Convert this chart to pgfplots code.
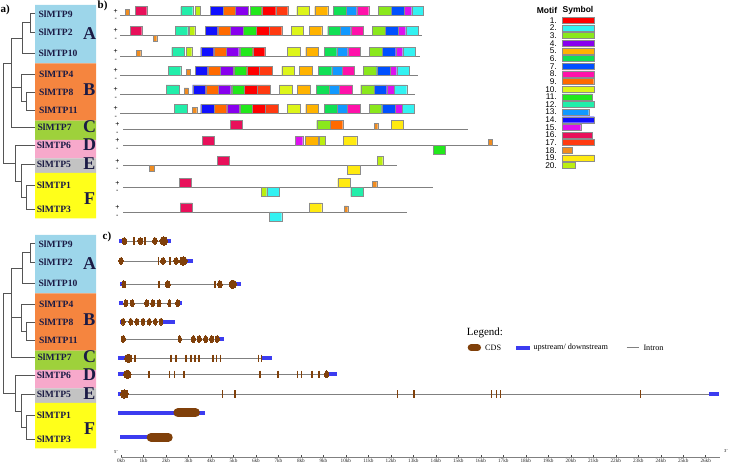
\documentclass[border=0pt]{standalone}
\usepackage{pgfplots}
\pgfplotsset{compat=1.18}
\usepackage{fontspec}
\setmainfont{Liberation Serif}
\newfontfamily\sans{Liberation Sans}

\definecolor{cA}{HTML}{9DD6EA}
\definecolor{cB}{HTML}{F5853F}
\definecolor{cC}{HTML}{9ED13B}
\definecolor{cD}{HTML}{F7A9CB}
\definecolor{cE}{HTML}{C3C3C3}
\definecolor{cF}{HTML}{FFFF1A}
\definecolor{labc}{HTML}{1B1B45}
\definecolor{treec}{HTML}{555555}
\definecolor{m1}{HTML}{FF0000}
\definecolor{m2}{HTML}{33F2F2}
\definecolor{m3}{HTML}{8AE81C}
\definecolor{m4}{HTML}{8800EE}
\definecolor{m5}{HTML}{FFB300}
\definecolor{m6}{HTML}{11E055}
\definecolor{m7}{HTML}{0050FF}
\definecolor{m8}{HTML}{FF11AA}
\definecolor{m9}{HTML}{FF6A00}
\definecolor{m10}{HTML}{DDF51A}
\definecolor{m11}{HTML}{22E81C}
\definecolor{m12}{HTML}{22EEAA}
\definecolor{m13}{HTML}{1199FF}
\definecolor{m14}{HTML}{1010FF}
\definecolor{m15}{HTML}{DD11EE}
\definecolor{m16}{HTML}{E8105A}
\definecolor{m17}{HTML}{FF3A10}
\definecolor{m18}{HTML}{F08C20}
\definecolor{m19}{HTML}{FFEA10}
\definecolor{m20}{HTML}{BBEE11}
\definecolor{cdsc}{RGB}{128,64,10}
\definecolor{utrc}{RGB}{60,60,240}

\tikzset{
 mbox/.style={draw=black!45, line width=0.4pt},
 gline/.style={draw=gray, line width=0.8pt},
 treel/.style={draw=treec, line width=0.9pt},
 intron/.style={draw=gray, line width=0.9pt},
 utr/.style={draw=utrc, line width=4pt},
 cdsl/.style={draw=cdsc, line width=9pt, line cap=round},
 tk/.style={draw=cdsc, line width=1.6pt},
 lab/.style={anchor=west, inner sep=0pt, text=labc, font=\fontsize{9.6}{10}\selectfont\bfseries},
 big/.style={inner sep=0pt, text=labc, font=\fontsize{18}{18}\selectfont\bfseries},
 pmf/.style={inner sep=0pt, text height=3.2pt, text depth=0pt, font=\sans\fontsize{7}{7}\selectfont},
 numf/.style={anchor=east, inner sep=0pt, font=\sans\fontsize{8.3}{8}\selectfont},
}

% motif boxes: x1 x2 line-y colour
\newcommand\MP[4]{\pgfmathsetmacro\yb{-#3}\pgfmathsetmacro\yt{-#3+9}%
 \edef\tmp{\noexpand\addplot[mbox,fill=#4] coordinates {(#1,\yb) (#2,\yb) (#2,\yt) (#1,\yt) (#1,\yb)};}\tmp}
\newcommand\MM[4]{\pgfmathsetmacro\yb{-#3}\pgfmathsetmacro\yt{-#3-9}%
 \edef\tmp{\noexpand\addplot[mbox,fill=#4] coordinates {(#1,\yb) (#2,\yb) (#2,\yt) (#1,\yt) (#1,\yb)};}\tmp}
\newcommand\SP[3]{\pgfmathsetmacro\yb{-#3}\pgfmathsetmacro\yt{-#3+6}%
 \edef\tmp{\noexpand\addplot[mbox,fill=m18] coordinates {(#1,\yb) (#2,\yb) (#2,\yt) (#1,\yt) (#1,\yb)};}\tmp}
\newcommand\SM[3]{\pgfmathsetmacro\yb{-#3}\pgfmathsetmacro\yt{-#3-6}%
 \edef\tmp{\noexpand\addplot[mbox,fill=m18] coordinates {(#1,\yb) (#2,\yb) (#2,\yt) (#1,\yt) (#1,\yb)};}\tmp}
\newcommand\GL[4]{\addplot[gline] coordinates {(#1,-#3) (#2,-#3)};
 \node[pmf] at (axis cs:#4,{-#3+4.2}) {+};\node[pmf] at (axis cs:#4,{-#3-3.6}) {-};}
% legend bar: index, x end, colour
\newcommand\LB[3]{\pgfmathsetmacro\yc{-(20.3+(#1-1)*7.65)}\pgfmathsetmacro\ya{\yc+3}\pgfmathsetmacro\yd{\yc-3}%
 \edef\tmp{\noexpand\addplot[mbox,fill=#3] coordinates {(562.3,\ya) (#2,\ya) (#2,\yd) (562.3,\yd) (562.3,\ya)};
 \noexpand\node[numf] at (axis cs:557,\yc) {#1.};}\tmp}
% exon ellipse: centre kb, width px, height px, y
\newcommand\ex[4]{\pgfmathsetmacro\sc{#2/#3}\pgfmathsetmacro\ms{#3/2}%
 \edef\tmp{\noexpand\addplot[only marks, mark=*, mark size=\ms pt, mark options={fill=cdsc, draw=cdsc, line width=0pt, xscale=\sc}] coordinates {(#1,#4)};}\tmp}
\newcommand\tk[2]{\pgfmathsetmacro\ya{#2+3.6}\pgfmathsetmacro\yb{#2-3.6}%
 \edef\tmp{\noexpand\addplot[tk] coordinates {(#1,\ya) (#1,\yb)};}\tmp}

\newcommand\panelA[2]{%
 \addplot[fill=cA, draw=none, #1] coordinates {(35,-5) (96,-5) (96,-63.3) (35,-63.3) (35,-5)};
 \addplot[fill=cB, draw=none, #1] coordinates {(35,-63.3) (96,-63.3) (96,-120.7) (35,-120.7) (35,-63.3)};
 \addplot[fill=cC, draw=none, #1] coordinates {(35,-120.7) (96,-120.7) (96,-140) (35,-140) (35,-120.7)};
 \addplot[fill=cD, draw=none, #1] coordinates {(35,-140) (96,-140) (96,-158.3) (35,-158.3) (35,-140)};
 \addplot[fill=cE, draw=none, #1] coordinates {(35,-158.3) (96,-158.3) (96,-173) (35,-173) (35,-158.3)};
 \addplot[fill=cF, draw=none, #1] coordinates {(35,-173) (96,-173) (96,-218.3) (35,-218.3) (35,-173)};
 \addplot[treel, #1] coordinates {(35,-13.3) (30,-13.3) (30,-32) (35,-32)};
 \addplot[treel, #1] coordinates {(30,-22.7) (22.7,-22.7) (22.7,-53.3) (35,-53.3)};
 \addplot[treel, #1] coordinates {(22.7,-38) (11,-38) (11,-127.3) (35,-127.3)};
 \addplot[treel, #1] coordinates {(35,-92.3) (26.7,-92.3) (26.7,-110) (35,-110)};
 \addplot[treel, #1] coordinates {(26.7,-101) (21,-101) (21,-74) (35,-74)};
 \addplot[treel, #1] coordinates {(21,-87.5) (11,-87.5)};
 \addplot[treel, #1] coordinates {(11,-63) (3.3,-63) (3.3,-163.3) (15,-163.3)};
 \addplot[treel, #1] coordinates {(35,-145.7) (15,-145.7) (15,-181) (21.7,-181)};
 \addplot[treel, #1] coordinates {(35,-164.3) (21.7,-164.3) (21.7,-197) (26.7,-197)};
 \addplot[treel, #1] coordinates {(35,-185) (26.7,-185) (26.7,-209) (35,-209)};
 \node[lab] at (axis cs:38.3,{-14-#2}) {SlMTP9};
 \node[lab] at (axis cs:38.3,{-32.3-#2}) {SlMTP2};
 \node[lab] at (axis cs:38.3,{-53.3-#2}) {SlMTP10};
 \node[lab] at (axis cs:39,{-74-#2}) {SlMTP4};
 \node[lab] at (axis cs:39,{-92.3-#2}) {SlMTP8};
 \node[lab] at (axis cs:39,{-110-#2}) {SlMTP11};
 \node[lab] at (axis cs:37.3,{-127.3-#2}) {SlMTP7};
 \node[lab] at (axis cs:36.7,{-145.7-#2}) {SlMTP6};
 \node[lab] at (axis cs:36.7,{-164.3-#2}) {SlMTP5};
 \node[lab] at (axis cs:36.7,{-185-#2}) {SlMTP1};
 \node[lab] at (axis cs:36.7,{-209-#2}) {SlMTP3};
 \node[big] at (axis cs:89.5,{-33.5-#2}) {A};
 \node[big] at (axis cs:89.5,{-89.5-#2}) {B};
 \node[big] at (axis cs:89.5,{-127-#2}) {C};
 \node[big] at (axis cs:89.5,{-145-#2}) {D};
 \node[big] at (axis cs:89.5,{-164-#2}) {E};
 \node[big] at (axis cs:89.5,{-198.5-#2}) {F};
}

\begin{document}
\begin{tikzpicture}
\useasboundingbox (0,0) rectangle (731pt,466pt);
\begin{axis}[at={(0pt,0pt)}, anchor=south west, scale only axis, width=731pt, height=466pt,
  xmin=0, xmax=731, ymin=-466, ymax=0, hide axis, clip=false]
% ---------- panel a (top) and tree of panel c
\panelA{}{0}
\panelA{y filter/.expression={y-230}}{230}
\node[inner sep=0pt, anchor=west, font=\fontsize{11}{11}\selectfont\bfseries] at (axis cs:0.5,-10) {a)};
\node[inner sep=0pt, anchor=west, font=\fontsize{11}{11}\selectfont\bfseries] at (axis cs:97.5,-6) {b)};
\node[inner sep=0pt, anchor=west, font=\fontsize{11}{11}\selectfont\bfseries] at (axis cs:102.5,-237) {c)};
% ---------- panel b: motifs
\GL{120}{423}{15.7}{115.7}
\SP{125}{129.3}{15.7}
\MP{135}{146.7}{15.7}{m16}
\MP{180.7}{192.7}{15.7}{m12}
\MP{195.3}{200.3}{15.7}{m20}
\MP{210}{223.3}{15.7}{m14}
\MP{223.3}{235}{15.7}{m9}
\MP{235}{248.3}{15.7}{m4}
\MP{250}{261.7}{15.7}{m11}
\MP{261.7}{275.7}{15.7}{m1}
\MP{275.7}{287.7}{15.7}{m17}
\MP{296.7}{309}{15.7}{m10}
\MP{314.7}{327.7}{15.7}{m5}
\MP{333.3}{346}{15.7}{m6}
\MP{346}{356.7}{15.7}{m13}
\MP{356.7}{368.7}{15.7}{m8}
\MP{378.3}{391}{15.7}{m3}
\MP{391}{404.3}{15.7}{m7}
\MP{404.3}{411.7}{15.7}{m15}
\MP{411.7}{423.3}{15.7}{m2}
%
\GL{120}{421.7}{35.3}{115.7}
\MP{130}{141.7}{35.3}{m16}
\SM{153.3}{156.7}{35.3}
\MP{175}{187.7}{35.3}{m12}
\MP{189.3}{194.7}{35.3}{m20}
\MP{205}{217.7}{35.3}{m14}
\MP{217.7}{230}{35.3}{m9}
\MP{230}{243.3}{35.3}{m4}
\MP{243.3}{256}{35.3}{m11}
\MP{256}{269}{35.3}{m1}
\MP{269}{281.7}{35.3}{m17}
\MP{291}{303.3}{35.3}{m10}
\MP{309}{321.7}{35.3}{m5}
\MP{327.7}{340}{35.3}{m6}
\MP{340}{350.7}{35.3}{m13}
\MP{350.7}{363.3}{35.3}{m8}
\MP{372.3}{385}{35.3}{m3}
\MP{385}{398.3}{35.3}{m7}
\MP{398.3}{405.7}{35.3}{m15}
\MP{405.7}{418.3}{35.3}{m2}
%
\GL{120}{420}{56.3}{115.7}
\SP{136}{140.7}{56.3}
\MP{171.7}{184}{56.3}{m12}
\MP{186}{191.7}{56.3}{m20}
\MP{200.7}{213.7}{56.3}{m14}
\MP{213.7}{226.3}{56.3}{m9}
\MP{226.3}{238.7}{56.3}{m4}
\MP{240}{252.7}{56.3}{m11}
\MP{252.7}{264.7}{56.3}{m1}
\MP{287.3}{300}{56.3}{m10}
\MP{305.7}{318.3}{56.3}{m5}
\MP{324}{336.7}{56.3}{m6}
\MP{336.7}{347.7}{56.3}{m13}
\MP{347.7}{360}{56.3}{m8}
\MP{369.3}{382.3}{56.3}{m3}
\MP{382.3}{395.7}{56.3}{m7}
\MP{395.7}{402.7}{56.3}{m15}
\MP{402.7}{415}{56.3}{m2}
%
\GL{120}{418.3}{75.3}{115.7}
\MP{168.3}{180.7}{75.3}{m12}
\SP{186}{190}{75.3}
\MP{195}{207.7}{75.3}{m14}
\MP{207.7}{220}{75.3}{m9}
\MP{220}{233.3}{75.3}{m4}
\MP{234}{246.7}{75.3}{m11}
\MP{246.7}{259}{75.3}{m1}
\MP{259}{272}{75.3}{m17}
\MP{281.7}{294.3}{75.3}{m10}
\MP{299.3}{312.3}{75.3}{m5}
\MP{318.3}{331.7}{75.3}{m6}
\MP{331.7}{342.3}{75.3}{m13}
\MP{342.3}{354}{75.3}{m8}
\MP{363.3}{376.7}{75.3}{m3}
\MP{376.7}{390}{75.3}{m7}
\MP{390}{396.7}{75.3}{m15}
\MP{396.7}{409.3}{75.3}{m2}
%
\GL{120}{415}{94}{115.7}
\MP{166}{179}{94}{m12}
\SP{184}{188.3}{94}
\MP{192.7}{205.7}{94}{m14}
\MP{205.7}{218.3}{94}{m9}
\MP{218.3}{230.7}{94}{m4}
\MP{232}{244.3}{94}{m11}
\MP{244.3}{257.3}{94}{m1}
\MP{257.3}{270}{94}{m17}
\MP{279.3}{292.3}{94}{m10}
\MP{297.3}{310}{94}{m5}
\MP{316}{329.3}{94}{m6}
\MP{329.3}{339.3}{94}{m13}
\MP{339.3}{352.3}{94}{m8}
\MP{360.7}{374}{94}{m3}
\MP{374}{386.7}{94}{m7}
\MP{386.7}{394}{94}{m15}
\MP{394}{406.7}{94}{m2}
%
\GL{120}{415}{113.3}{115.7}
\MP{174.3}{187.3}{113.3}{m12}
\SP{192.3}{196.7}{113.3}
\MP{200.7}{214}{113.3}{m14}
\MP{214}{226.7}{113.3}{m9}
\MP{226.7}{239}{113.3}{m4}
\MP{240}{252.3}{113.3}{m11}
\MP{252.3}{265}{113.3}{m1}
\MP{265}{278.3}{113.3}{m17}
\MP{287.3}{300}{113.3}{m10}
\MP{305.7}{318.3}{113.3}{m5}
\MP{324.3}{337.3}{113.3}{m6}
\MP{337.3}{347.3}{113.3}{m13}
\MP{347.3}{360}{113.3}{m8}
\MP{369}{381.7}{113.3}{m3}
\MP{381.7}{395}{113.3}{m7}
\MP{395}{402}{113.3}{m15}
\MP{402}{414.3}{113.3}{m2}
%
\GL{123}{468}{129.3}{117.3}
\MP{230}{242}{129.3}{m16}
\MP{316.7}{330}{129.3}{m3}
\MP{330}{342.7}{129.3}{m9}
\SP{374}{377.7}{129.3}
\MP{391}{403.3}{129.3}{m19}
%
\GL{123}{498}{145.3}{117.3}
\MP{202}{214}{145.3}{m16}
\MP{295}{302.7}{145.3}{m15}
\MP{305}{318.3}{145.3}{m5}
\MP{319.3}{325}{145.3}{m20}
\MP{343.3}{356.7}{145.3}{m19}
\MM{433.3}{445}{145.3}{m11}
\SP{488.3}{492.3}{145.3}
%
\GL{123}{396.7}{165.7}{117.3}
\SM{149.3}{154}{165.7}
\MP{217.3}{229.3}{165.7}{m16}
\MM{347.3}{360}{165.7}{m19}
\MP{377.3}{382.7}{165.7}{m20}
%
\GL{123}{433.3}{187.7}{117.3}
\MP{179}{191}{187.7}{m16}
\MM{261}{266.7}{187.7}{m20}
\MM{266.7}{279}{187.7}{m2}
\MP{337.7}{350}{187.7}{m19}
\MM{350.7}{363.3}{187.7}{m12}
\SP{372.3}{376.7}{187.7}
%
\GL{123}{406.7}{212}{117.3}
\MP{180}{192}{212}{m16}
\MM{269.3}{281.7}{212}{m2}
\MP{309}{321.7}{212}{m19}
\SP{344.3}{347.7}{212}
% ---------- motif legend
\node[inner sep=0pt, font=\sans\fontsize{8.5}{8}\selectfont\bfseries] at (axis cs:547,-10) {Motif};
\node[inner sep=0pt, font=\sans\fontsize{8.5}{8}\selectfont\bfseries] at (axis cs:578,-10) {Symbol};
\LB{1}{594.3}{m1}
\LB{2}{594.3}{m2}
\LB{3}{594.3}{m3}
\LB{4}{594.3}{m4}
\LB{5}{594.3}{m5}
\LB{6}{594.3}{m6}
\LB{7}{594.3}{m7}
\LB{8}{594.3}{m8}
\LB{9}{593.7}{m9}
\LB{10}{594.3}{m10}
\LB{11}{592.3}{m11}
\LB{12}{594.3}{m12}
\LB{13}{588.7}{m13}
\LB{14}{594.3}{m14}
\LB{15}{580.7}{m15}
\LB{16}{592.3}{m16}
\LB{17}{594.3}{m17}
\LB{18}{572}{m18}
\LB{19}{594.3}{m19}
\LB{20}{575.3}{m20}
% ---------- panel c legend
\node[inner sep=0pt, anchor=west, font=\fontsize{11}{11}\selectfont] at (axis cs:466.7,-333.3) {Legend:};
\addplot[draw=cdsc, line width=7pt, line cap=round] coordinates {(471.2,-347.7) (477.5,-347.7)};
\node[inner sep=0pt, anchor=west, font=\fontsize{8.2}{8}\selectfont] at (axis cs:485,-347.7) {CDS};
\addplot[utr] coordinates {(516,-347.7) (530,-347.7)};
\node[inner sep=0pt, anchor=west, font=\fontsize{8.2}{8}\selectfont] at (axis cs:533.3,-347.7) {upstream/ downstream};
\addplot[intron] coordinates {(626.7,-347.7) (639.3,-347.7)};
\node[inner sep=0pt, anchor=west, font=\fontsize{8.2}{8}\selectfont] at (axis cs:643.3,-347.7) {Intron};
\node[inner sep=0pt, font=\fontsize{4.5}{4.5}\selectfont] at (axis cs:116,-452) {5'};
\node[inner sep=0pt, font=\fontsize{4.5}{4.5}\selectfont] at (axis cs:726,-451) {3'};
\end{axis}
% ---------- panel c: gene structures (x in kb)
\begin{axis}[at={(121pt,8.3pt)}, anchor=south west, scale only axis, width=598.9pt, height=225.7pt,
  xmin=0, xmax=26.63, ymin=-457.7, ymax=-232, clip=false,
  axis x line=bottom, axis y line=none,
  x axis line style={-, draw=gray, line width=0.7pt},
  xtick={0,1,...,26},
  xticklabels={0kb,1kb,2kb,3kb,4kb,5kb,6kb,7kb,8kb,9kb,10kb,11kb,12kb,13kb,14kb,15kb,16kb,17kb,18kb,19kb,20kb,21kb,22kb,23kb,24kb,25kb,26kb},
  tick align=inside, major tick length=2.5pt,
  xtick style={draw=black!70, line width=0.5pt},
  xticklabel style={font=\fontsize{5.2}{6}\selectfont, text=black!85, inner sep=1.2pt}]
% SlMTP9
\addplot[intron] coordinates {(-0.07,-241) (2.21,-241)};
\addplot[utr] coordinates {(-0.07,-241) (0.06,-241)};
\addplot[utr] coordinates {(2.0,-241) (2.22,-241)};
\ex{0.15}{4.5}{7}{-241} \tk{0.59}{-241} \ex{0.86}{4.7}{7}{-241} \tk{1.07}{-241}
\ex{1.51}{4.5}{7}{-241} \ex{1.90}{7.5}{8.5}{-241}
% SlMTP2
\addplot[intron] coordinates {(-0.02,-261) (3.22,-261)};
\addplot[utr] coordinates {(2.92,-261) (3.22,-261)};
\ex{0.0}{4.2}{7}{-261} \tk{1.66}{-261} \ex{1.87}{4.7}{7}{-261} \tk{2.18}{-261}
\ex{2.45}{4.7}{7}{-261} \ex{2.77}{7.5}{8.5}{-261}
% SlMTP10
\addplot[intron] coordinates {(-0.04,-284.3) (5.32,-284.3)};
\addplot[utr] coordinates {(-0.04,-284.3) (0.06,-284.3)};
\addplot[utr] coordinates {(5.11,-284.3) (5.32,-284.3)};
\ex{0.13}{4}{7}{-284.3} \tk{1.70}{-284.3} \ex{2.08}{5}{7}{-284.3} \tk{4.18}{-284.3}
\ex{4.40}{4.7}{7}{-284.3} \ex{4.97}{7.5}{8.5}{-284.3}
% SlMTP4
\addplot[intron] coordinates {(-0.07,-303.3) (2.70,-303.3)};
\addplot[utr] coordinates {(-0.07,-303.3) (0.10,-303.3)};
\addplot[utr] coordinates {(2.60,-303.3) (2.70,-303.3)};
\ex{0.21}{4}{7}{-303.3} \ex{0.50}{4}{7}{-303.3} \ex{1.14}{4}{7}{-303.3} \ex{1.41}{4}{7}{-303.3}
\ex{1.69}{4}{7}{-303.3} \ex{2.15}{3}{7}{-303.3} \ex{2.52}{4}{7}{-303.3}
% SlMTP8
\addplot[intron] coordinates {(-0.04,-321.7) (2.40,-321.7)};
\addplot[utr] coordinates {(-0.04,-321.7) (0.04,-321.7)};
\addplot[utr] coordinates {(1.86,-321.7) (2.40,-321.7)};
\ex{0.10}{3.7}{7}{-321.7} \ex{0.43}{3.7}{7}{-321.7} \ex{0.70}{3.7}{7}{-321.7} \ex{0.98}{3.7}{7}{-321.7}
\ex{1.26}{3.7}{7}{-321.7} \ex{1.53}{3.7}{7}{-321.7} \ex{1.78}{3.7}{7}{-321.7}
% SlMTP11
\addplot[intron] coordinates {(0.0,-339) (4.58,-339)};
\addplot[utr] coordinates {(4.35,-339) (4.58,-339)};
\ex{0.10}{4.3}{7}{-339} \ex{2.61}{3.3}{7}{-339} \ex{3.22}{4}{7}{-339} \ex{3.48}{4}{7}{-339}
\ex{3.76}{4}{7}{-339} \ex{4.03}{4}{7}{-339} \ex{4.28}{4}{7}{-339}
% SlMTP7
\addplot[intron] coordinates {(-0.12,-358.3) (6.73,-358.3)};
\addplot[utr] coordinates {(-0.12,-358.3) (0.2,-358.3)};
\addplot[utr] coordinates {(6.27,-358.3) (6.73,-358.3)};
\ex{0.33}{7.5}{8.5}{-358.3}
\tk{0.62}{-358.3} \tk{2.22}{-358.3} \tk{2.45}{-358.3} \tk{2.89}{-358.3} \tk{3.10}{-358.3}
\tk{3.29}{-358.3} \tk{3.48}{-358.3} \tk{4.08}{-358.3} \tk{4.25}{-358.3} \tk{4.42}{-358.3}
\tk{6.11}{-358.3} \tk{6.25}{-358.3}
% SlMTP6
\addplot[intron] coordinates {(-0.12,-374.3) (9.59,-374.3)};
\addplot[utr] coordinates {(-0.12,-374.3) (0.15,-374.3)};
\addplot[utr] coordinates {(9.22,-374.3) (9.59,-374.3)};
\ex{0.28}{7.5}{8.5}{-374.3}
\tk{1.25}{-374.3} \tk{2.15}{-374.3} \tk{2.37}{-374.3} \tk{2.80}{-374.3} \tk{6.18}{-374.3}
\tk{6.97}{-374.3} \tk{7.84}{-374.3} \tk{8.03}{-374.3} \tk{8.48}{-374.3} \tk{8.80}{-374.3}
\ex{9.14}{4}{7}{-374.3}
% SlMTP5
\addplot[intron] coordinates {(-0.12,-394) (26.2,-394)};
\addplot[utr] coordinates {(-0.12,-394) (0.0,-394)};
\addplot[utr] coordinates {(26.16,-394) (26.6,-394)};
\ex{0.15}{7.5}{8.5}{-394}
\tk{4.52}{-394} \tk{5.07}{-394} \tk{12.30}{-394} \tk{13.04}{-394} \tk{16.48}{-394}
\tk{16.70}{-394} \tk{16.88}{-394} \tk{23.10}{-394}
% SlMTP1
\addplot[utr] coordinates {(-0.12,-412.7) (3.73,-412.7)};
\addplot[cdsl] coordinates {(2.53,-412.7) (3.31,-412.7)};
% SlMTP3
\addplot[utr] coordinates {(-0.04,-437.3) (1.3,-437.3)};
\addplot[cdsl] coordinates {(1.34,-437.3) (2.10,-437.3)};
\end{axis}
\end{tikzpicture}
\end{document}
